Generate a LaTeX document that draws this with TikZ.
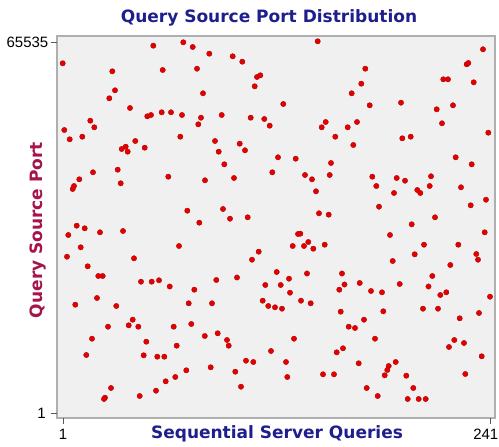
\documentclass[tikz,border=0pt]{standalone}
\usepackage{fontspec}
\setmainfont{Liberation Sans}
\newfontfamily\chartfont{DejaVu Sans}
\usepackage{xcolor}
\usetikzlibrary{positioning}

\definecolor{titleblue}{RGB}{30,30,140}
\definecolor{portred}{RGB}{165,20,75}
\definecolor{dotred}{RGB}{228,0,0}
\definecolor{plotbg}{RGB}{240,240,240}
\definecolor{framegray}{RGB}{175,175,175}

\tikzset{
	heading/.style={font=\chartfont\bfseries\fontsize{17}{20}\selectfont, inner sep=0},
	ticklabel/.style={font=\fontsize{15}{18}\selectfont, inner sep=0},
	querydot/.style={fill=dotred, draw=dotred!75!black, line width=0.3pt}
}

\begin{document}
\begin{tikzpicture}[x=1pt, y=-1pt]
	\useasboundingbox (0,0) rectangle (499,447);
	\fill[white] (0,0) rectangle (499,447);

	% plot area
	\draw[framegray, fill=plotbg, line width=1.5pt] (57,36) rectangle (495,418);

	% ticks
	\draw[gray!70!black, line width=0.8pt] (51,42) -- (57,42);
	\draw[gray!70!black, line width=0.8pt] (51,413) -- (57,413);
	\draw[gray!70!black, line width=0.8pt] (63,418) -- (63,424);
	\draw[gray!70!black, line width=0.8pt] (490,418) -- (490,424);

	\node[ticklabel, anchor=east] (ymax) at (48.5,42) {65535};
	\node[ticklabel, anchor=east] (ymin) at (46,413) {1};
	\node[ticklabel] (xmin) at (63,434) {1};
	\node[ticklabel, anchor=east] (xmax) at (498.5,434) {241};

	% titles
	\node[heading, text=titleblue] (title) at (269,18) {Query Source Port Distribution};
	\node[heading, text=titleblue] (xlabel) at (277,434) {Sequential Server Queries};
	\node[heading, text=portred, rotate=90] (ylabel) at (38,230) {Query Source Port};

	% one dot per query
	\foreach \qx/\qy in {
		62.7/63.3, 153.3/45.7, 183.3/42.3, 192.7/47, 112.3/71.3, 162.7/70, 197/68.7, 115/90.3,
		109.3/98.3, 203/93.3, 130/108, 147.3/116.3, 151/115, 161.7/112.3, 171/112.3, 182/115,
		201/117.7, 198.3/124.3, 64.3/130, 90.3/120.7, 94.3/127.3, 69.7/139.3, 82.3/136.7, 180.3/136.7,
		135.3/141, 121.7/149, 125.7/146.7, 127.7/151.7, 144.7/147.7,
		209.3/53.7, 232.7/56.3, 242.3/61.7, 257/77, 260.3/75.3, 254.7/86.3, 283.3/104, 317.7/41.3,
		221.7/115, 250.7/117.7, 264.3/119, 269.7/125.7, 325.7/122, 321.7/127.3, 335.3/136.7, 215/141,
		218.7/151.7, 239.7/143.7, 245/150.3, 278/157.3, 295.7/158.7, 224.3/164.3, 331/163,
		483/49.3, 466.7/64.3, 468.3/63, 365.3/68.7, 361.3/83.7, 351.7/93.3, 369.7/105.3, 443.3/79.3,
		448/79.3, 473.7/82.3, 401/102.7, 436.7/109.3, 453/105.3, 442/123.3, 357/122, 347.7/127.3,
		353.3/145, 402.3/138.3, 410.7/136.7, 488.3/132.7, 455.7/157.3, 471.7/164.3,
		93/172.3, 117.7/169.7, 120.7/183.3, 79.3/179.3, 74/186, 72.7/189, 168.3/176.7, 205/180.3,
		187.3/210.7, 199.3/222.7, 76.7/225.7, 84.7/228.3, 68.3/235, 100/232.3, 123/231, 80.7/247.3,
		179/246, 67/256.7, 134/258.3, 87.7/266.3, 98.3/276, 102.7/276, 141/281.7, 151.7/281.7,
		159/280.3, 169.7/286.5,
		234/178, 272.3/172.3, 305/175, 312/179.3, 329.7/175, 316/191.3, 223/209, 230/218.7,
		247.7/217.3, 319/213.3, 328.7/214.7, 298/234, 300.3/233.7, 292.7/246, 304/246, 308.3/242,
		313.3/248.7, 324.7/244.7, 258.7/251.7, 252/259.7, 276.7/272, 307/273.5, 342/273.5, 216.3/280,
		237/277.5, 265.3/285, 280.7/285, 289/278.7, 344.5/284.5,
		372.3/176.7, 396.7/178, 405/180.7, 431/176.3, 376.3/186, 394/193, 417.3/190, 420.3/193,
		429.7/186, 461/187.3, 486/199.7, 470.7/205.3, 379/206.7, 435/217.3, 411.7/224.3, 390/235,
		484.7/232.3, 424/244.7, 458.3/244.7, 414.7/254.3, 476.3/254, 478/259.7, 392.7/261, 450.3/265,
		432.3/276, 359.7/283, 399.7/284, 428.5/286.5,
		194.3/289.7, 75.3/304.7, 97/298, 116.3/306, 188.7/303.3, 132.7/319.7, 128.7/325.3, 138.3/326.7,
		108/326.7, 173.7/326.7, 191.3/324, 204.8/336, 92/338.7, 146.3/341.7, 176.7/345.7, 86.3/355,
		143.7/355.3, 157.3/356.7, 164.3/356.7, 186.3/370.3, 175.3/377, 165.7/381.3, 156/390.7, 111/388,
		105/397.7, 104/399, 139.7/396,
		212/303.3, 262.7/300.7, 268.3/306, 275/307.3, 282/308.7, 290/292.7, 301/300.7, 310.7/303.3,
		339.3/289.7, 340.7/311.7, 217.7/333.3, 227/340, 228.7/345.7, 294/338.7, 271/351, 246/360.7,
		253.3/362, 286/362, 210.7/367.3, 235.3/371.7, 287.3/377, 241/386.7, 323/374.3, 334/374.3,
		336.7/352.3, 343/348.3,
		371/291, 382/292.3, 440.3/295, 446.3/292.3, 490/296.7, 383.3/311.3, 423/308.7, 438/308.7,
		479/313, 459.7/318.3, 364/319.7, 348.7/326.7, 355/328, 375/338.7, 454.3/340, 449/347,
		464/343, 481.7/356.3, 358.7/363.3, 395.7/362, 388.7/366, 387.3/370, 384.7/375.3, 406.3/375.7,
		465.3/374, 366.7/388, 413.3/388, 377.7/396, 407.7/399, 418.7/399, 425.7/399} {
		\filldraw[querydot] (\qx,\qy) circle (2.7pt);
	};
\end{tikzpicture}
\end{document}
